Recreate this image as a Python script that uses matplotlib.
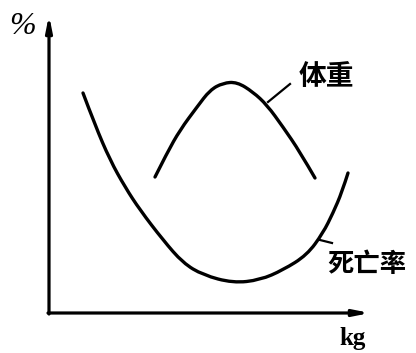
import matplotlib
matplotlib.use("Agg")
import matplotlib.pyplot as plt
from matplotlib.path import Path
from matplotlib.patches import PathPatch

plt.rcParams['font.family'] = ['Noto Sans CJK SC', 'DejaVu Sans']

# Schematic curves (arbitrary units: x = body weight, y = %)
mort_x = [34, 46, 61, 76, 91, 114, 134, 154, 184, 211, 234, 258, 274, 284, 293, 299]
mort_y = [220, 188, 153, 126, 103, 73, 50, 38, 30, 33, 43, 58, 80, 100, 121, 140]

weight_x = [106, 118, 131, 148, 161, 174, 188, 204, 218, 234, 251, 266]
weight_y = [136, 160, 183, 206, 223, 230, 231, 221, 208, 186, 161, 135]

x_label = "kg"
y_label = "%"
weight_label = "体重"
mort_label = "死亡率"


def smooth_path(xs, ys):
    pts = list(zip(xs, ys))
    verts = [pts[0]]
    codes = [Path.MOVETO]
    for i in range(1, len(pts) - 1):
        if i < len(pts) - 2:
            end = ((pts[i][0] + pts[i + 1][0]) / 2, (pts[i][1] + pts[i + 1][1]) / 2)
        else:
            end = pts[i + 1]
        verts += [pts[i], end]
        codes += [Path.CURVE3, Path.CURVE3]
    return Path(verts, codes)


fig = plt.figure(figsize=(4.16, 3.53), dpi=100)
ax = fig.add_axes([0, 0, 1, 1])
ax.set_xlim(-49, 367)
ax.set_ylim(-40, 313)
ax.axis('off')

lw = 2.4
arrow = dict(arrowstyle='-|>,head_length=0.9,head_width=0.18', color='black',
             lw=2.3, shrinkA=0, shrinkB=0)
ax.annotate('', xy=(0, 298), xytext=(0, -1), arrowprops=arrow)
ax.annotate('', xy=(321, 0), xytext=(-1, 0), arrowprops=arrow)

for xs, ys in [(mort_x, mort_y), (weight_x, weight_y)]:
    ax.add_patch(PathPatch(smooth_path(xs, ys), facecolor='none', edgecolor='black',
                           lw=lw, capstyle='round', joinstyle='round'))

# leader lines
ax.plot([219, 241], [211, 229], color='black', lw=1.6)
ax.plot([271, 283], [73, 70], color='black', lw=1.6)

ax.text(277, 236, weight_label, fontsize=20, fontweight='bold', ha='center', va='center')
ax.text(318, 48, mort_label, fontsize=19, fontweight='bold', ha='center', va='center')
ax.text(-27, 286, y_label, fontsize=23, style='italic', family=['Liberation Serif'],
        ha='center', va='center')
ax.text(304, -26, x_label, fontsize=18, fontweight='bold', family=['Liberation Serif'],
        ha='center', va='center')

fig.savefig('out.png', dpi=100)
